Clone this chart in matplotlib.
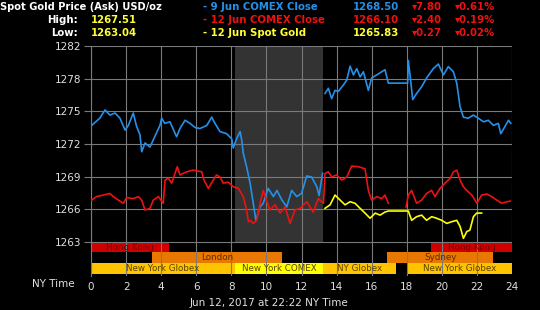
import numpy as np
import matplotlib
matplotlib.use("Agg")
import matplotlib.pyplot as plt
import matplotlib.transforms as mtransforms

nan = np.nan

# ---- data ----
blue_t = [0.04, 0.5, 0.8, 1.08, 1.37, 1.65, 1.94, 2.13, 2.41, 2.6, 2.79, 2.89, 3.08, 3.36, 3.55, 3.93, 4.03, 4.2, 4.5,
          4.88, 5.07, 5.36, 5.64, 5.93, 6.21, 6.6, 6.88, 7.07, 7.35, 7.73, 8.02, 8.11, 8.3, 8.5, 8.59, 8.68, 8.87, 9.07,
          9.25, 9.4, 9.64, 9.82, 10.1, 10.4, 10.6, 10.87, 11.16, 11.44, 11.73, 12.0, 12.3, 12.58, 12.87, 13.0, 13.2,
          13.27,
          13.34, 13.53, 13.72, 13.91, 14.1, 14.38, 14.58, 14.77, 14.96, 15.15, 15.34, 15.53, 15.81, 16.0, 16.29, 16.57,
          16.76, 16.95, 18.05, 18.09, 18.22, 18.34, 18.56, 18.85, 19.13, 19.51, 19.8, 20.09, 20.37, 20.66, 20.85, 21.04,
          21.23, 21.5, 21.8, 22.08, 22.37, 22.65, 22.94, 23.22, 23.36, 23.6, 23.8, 23.93]
blue_v = [1274.3, 1275.0, 1275.8, 1275.3, 1275.5, 1275.0, 1273.85, 1274.3, 1275.5, 1274.2, 1273.4, 1271.75, 1272.6,
          1272.2, 1272.9, 1274.3, 1275.0, 1274.5, 1274.65, 1273.2, 1274.0, 1274.8, 1274.5, 1274.1, 1274.0, 1274.3,
          1275.1, 1274.5, 1273.7, 1273.5, 1273.0, 1272.1, 1273.0, 1273.7, 1272.9, 1271.6, 1270.3, 1268.7, 1266.75,
          1265.1, 1266.4, 1266.75, 1268.2, 1267.4, 1268.0, 1267.1, 1266.4, 1268.0, 1267.4, 1267.7, 1269.4, 1269.3,
          1268.35, 1267.5, 1269.65,
          nan,
          1277.4, 1277.9, 1276.9, 1277.7, 1277.6, 1278.2, 1278.7, 1280.05, 1279.2, 1279.8, 1279.0, 1279.5, 1277.7,
          1278.9, 1279.2, 1279.5, 1279.7, 1278.4, 1278.4, 1280.6, 1278.7, 1276.8, 1277.4, 1278.05, 1278.9, 1279.8,
          1280.25, 1279.2, 1280.0, 1279.5, 1278.4, 1276.1, 1275.1, 1275.0, 1275.3, 1275.0, 1274.65, 1274.8, 1274.3,
          1274.5, 1273.5, 1274.2, 1274.8, 1274.5]

red_t = [0.04, 0.32, 0.7, 1.08, 1.27, 1.56, 1.84, 2.03, 2.41, 2.7, 2.89, 3.08, 3.36, 3.55, 3.84, 4.12, 4.22, 4.41, 4.6,
         4.79, 4.92, 5.07, 5.45, 5.83, 6.31, 6.44, 6.69, 6.97, 7.16, 7.35, 7.54, 7.83, 8.11, 8.4, 8.68, 8.87, 8.97,
         9.07, 9.25, 9.45, 9.64, 9.82, 10.0, 10.2, 10.49, 10.78, 11.06, 11.35, 11.63, 11.92, 12.3, 12.67, 12.96, 13.25,
         13.34, 13.53, 13.72, 14.0, 14.29, 14.58, 14.86, 15.24, 15.62, 15.81, 16.0, 16.29, 16.57, 16.76, 16.95,
         17.5,
         17.96, 18.09, 18.28, 18.56, 18.85, 19.13, 19.42, 19.61, 19.9, 20.18, 20.47, 20.66, 20.85, 21.04, 21.23,
         21.42, 21.71, 22.0, 22.27, 22.56, 22.84, 23.13, 23.41, 23.7, 23.9]
red_v = [1267.06, 1267.4, 1267.55, 1267.7, 1267.4, 1267.06, 1266.75, 1267.3, 1267.2, 1267.4, 1267.06, 1266.1, 1266.26,
         1267.06, 1267.4, 1266.75, 1269.0, 1269.17, 1268.7, 1269.65, 1270.3, 1269.5, 1269.8, 1269.97, 1269.8, 1269.0,
         1268.2, 1269.0, 1269.5, 1269.3, 1268.7, 1268.8, 1268.35, 1268.2, 1267.4, 1266.1, 1264.96, 1265.1, 1264.8,
         1265.1, 1266.75, 1268.0, 1267.06, 1266.1, 1266.6, 1265.8, 1266.4, 1264.8, 1266.1, 1266.26, 1266.9, 1265.9,
         1267.2, 1266.75, 1269.65, 1269.8, 1269.3, 1269.5, 1269.0, 1269.3, 1270.36, 1270.3, 1270.1, 1268.0, 1267.06,
         1267.4, 1267.2, 1267.55, 1266.75,
         nan,
         1266.4, 1267.55, 1268.0, 1266.75, 1267.06, 1267.7, 1268.0, 1267.4, 1268.2, 1268.7, 1269.17, 1269.8, 1269.97,
         1269.0, 1268.35, 1268.0, 1267.55, 1266.75, 1267.55, 1267.65, 1267.4, 1267.06, 1266.75, 1266.9, 1266.96]

yellow_t = [13.34, 13.63, 13.91, 14.2, 14.48, 14.77, 15.05, 15.34, 15.62, 15.91, 16.2, 16.48, 16.76, 16.95, 18.09,
            18.28, 18.56, 18.85, 19.13, 19.42, 19.7, 19.99, 20.28, 20.56, 20.85, 21.04, 21.23, 21.42, 21.6, 21.8,
            21.99, 22.27]
yellow_v = [1266.26, 1266.6, 1267.55, 1267.06, 1266.6, 1266.9, 1266.75, 1266.26, 1265.8, 1265.3, 1265.8, 1265.6,
            1265.9, 1266.0, 1266.0, 1265.1, 1265.45, 1265.6, 1265.1, 1265.45, 1265.3, 1265.1, 1264.8, 1264.96, 1265.1,
            1264.5, 1263.35, 1264.0, 1264.15, 1265.45, 1265.8, 1265.8]

comex_start, comex_end = 8.2, 13.25

session_names = ["Hong Kong", "Hong Kong", "London", "Sydney", "New York Globex", "New York COMEX", "NY Globex",
                 "New York Globex"]
session_start = [0, 19.4, 3.5, 16.9, 0, 8.2, 13.25, 18.0]
session_end = [4.45, 24, 10.9, 22.9, 8.2, 13.25, 17.4, 24]
session_row = [0, 0, 1, 1, 2, 2, 2, 2]

y_ticks = [1263, 1266, 1269, 1272, 1275, 1278, 1282]
x_ticks = [0, 2, 4, 6, 8, 10, 12, 14, 16, 18, 20, 22, 24]

# ---- styling ----
W, H = 540, 310
fig = plt.figure(figsize=(W / 100, H / 100), dpi=100, facecolor="black")
ax = fig.add_axes([91 / W, 34 / H, 421 / W, 230 / H], facecolor="black")

ax.set_xlim(0, 24)
ax.set_ylim(1259.7, 1282)

grid_c = "#7a7a7a"
tick_pos = np.linspace(1263, 1282, 7)
ax.set_yticks(tick_pos)
ax.set_yticklabels([str(v) for v in y_ticks])
ax.set_xticks(x_ticks)
ax.set_xticklabels([str(v) for v in x_ticks])
ax.tick_params(axis="y", colors=grid_c, labelcolor="#e0e0e0", labelsize=7.5, length=5, width=0.8, pad=2)
ax.tick_params(axis="x", colors=grid_c, labelcolor="#e0e0e0", labelsize=7.5, length=0, pad=4)
for s in ["top", "right", "bottom"]:
    ax.spines[s].set_visible(False)
ax.spines["left"].set_color(grid_c)
ax.spines["left"].set_linewidth(0.8)

for yv in tick_pos:
    ax.axhline(yv, color=grid_c, lw=0.8, zorder=2)
for xv in x_ticks:
    ax.axvline(xv, color=grid_c, lw=0.8, zorder=2)

# COMEX shading (above session bars only)
ax.fill_between([comex_start, comex_end], 1263, 1282, color="#333333", zorder=1, lw=0)

# session bars
trans = mtransforms.blended_transform_factory(ax.transData, ax.transAxes)
row_y = [(0.104, 0.148), (0.0565, 0.104), (0.009, 0.0565)]
colors = {"Hong Kong": "#d10000", "London": "#e87800", "Sydney": "#e87800", "New York Globex": "#ffc400",
          "NY Globex": "#ffc400", "New York COMEX": "#ffff00"}
txtcol = {"Hong Kong": "#6a0000", "London": "#5a2a00", "Sydney": "#5a2a00", "New York Globex": "#5a4000",
          "NY Globex": "#5a4000", "New York COMEX": "#5a4000"}
for name, s, e, r in zip(session_names, session_start, session_end, session_row):
    y0, y1 = row_y[r]
    ax.add_patch(plt.Rectangle((s, y0), e - s, y1 - y0, transform=trans, color=colors[name], lw=0, zorder=1))
    ax.text((s + e) / 2, (y0 + y1) / 2, name, transform=trans, ha="center", va="center", fontsize=6.3,
            color=txtcol[name], zorder=3)

ax.plot(blue_t, blue_v, color="#2590e8", lw=1.2, zorder=4)
ax.plot(red_t, red_v, color="#ee1111", lw=1.2, zorder=4)
ax.plot(yellow_t, yellow_v, color="#ffff00", lw=1.2, zorder=5)


def ft(px, py, s, color, ha="left", bold=True, size=7.3):
    fig.text(px / W, 1 - py / H, s, color=color, ha=ha, va="center", fontsize=size,
             fontweight="bold" if bold else "normal")


white = "#ffffff"
yel = "#ffff33"
blu = "#2590e8"
red = "#ee1111"
ft(0, 7, "Spot Gold Price (Ask) USD/oz", white, size=7.1)
ft(78, 20, "High:", white, ha="right")
ft(91, 20, "1267.51", yel)
ft(78, 33, "Low:", white, ha="right")
ft(91, 33, "1263.04", yel)

ft(203, 7, "- 9 Jun COMEX Close", blu)
ft(353, 7, "1268.50", blu)
ft(412, 7, "\u25BE7.80", red)
ft(455, 7, "\u25BE0.61%", red)

ft(203, 20, "- 12 Jun COMEX Close", red)
ft(353, 20, "1266.10", red)
ft(412, 20, "\u25BE2.40", red)
ft(455, 20, "\u25BE0.19%", red)

ft(203, 33, "- 12 Jun Spot Gold", yel)
ft(353, 33, "1265.83", yel)
ft(412, 33, "\u25BE0.27", red)
ft(455, 33, "\u25BE0.02%", red)

ft(75, 284, "NY Time", "#e0e0e0", ha="right", bold=False, size=7.5)
ft(269, 303, "Jun 12, 2017 at 22:22 NY Time", "#e0e0e0", ha="center", bold=False, size=7.5)

fig.savefig("out.png", dpi=100, facecolor="black")
